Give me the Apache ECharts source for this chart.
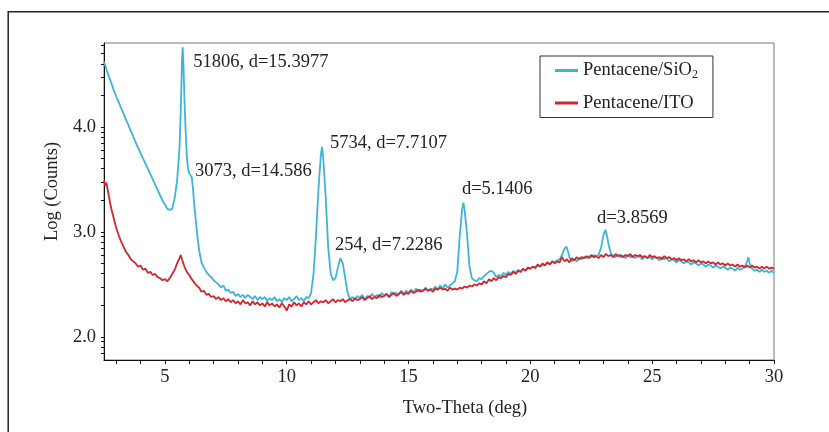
<!DOCTYPE html>
<html>
<head>
<meta charset="utf-8">
<title>XRD Pentacene</title>
<script src="https://cdn.jsdelivr.net/npm/echarts@6.0.0/dist/echarts.min.js"></script>
<style>
    html, body { margin: 0; padding: 0; background: #fff; }
    #chart { width: 829px; height: 432px; }
</style>
</head>
<body>
<div id="chart"></div>
<script>
// 2θ (deg) and log10(counts)
var sio2Theta = [
    2.5,2.6,2.7,2.8,2.9,3.0,3.1,3.2,3.3,3.4,
    3.5,3.6,3.7,3.8,3.9,4.0,4.1,4.2,4.3,4.4,
    4.5,4.6,4.7,4.8,4.9,5.0,5.1,5.2,5.3,5.4,
    5.5,5.6,5.65,5.7,5.73,5.76,5.8,5.85,5.9,5.95,
    6.0,6.05,6.1,6.15,6.2,6.3,6.4,6.5,6.6,6.7,
    6.8,6.9,7.0,7.1,7.2,7.3,7.4,7.5,7.6,7.7,
    7.8,7.9,8.0,8.1,8.2,8.3,8.4,8.5,8.6,8.7,
    8.8,8.9,9.0,9.1,9.2,9.3,9.4,9.5,9.6,9.7,
    9.8,9.9,10.0,10.1,10.2,10.3,10.4,10.5,10.6,10.7,
    10.8,10.9,11.0,11.1,11.2,11.3,11.4,11.45,11.5,11.6,
    11.7,11.8,11.9,12.0,12.1,12.2,12.25,12.3,12.4,12.5,
    12.6,12.7,12.8,12.9,13.0,13.1,13.2,13.3,13.4,13.5,
    13.6,13.7,13.8,13.9,14.0,14.1,14.2,14.3,14.4,14.5,
    14.6,14.7,14.8,14.9,15.0,15.1,15.2,15.3,15.4,15.5,
    15.6,15.7,15.8,15.9,16.0,16.1,16.2,16.3,16.4,16.5,
    16.6,16.7,16.8,16.9,17.0,17.1,17.2,17.25,17.3,17.4,
    17.5,17.6,17.7,17.8,17.9,18.0,18.1,18.2,18.3,18.4,
    18.5,18.6,18.7,18.8,18.9,19.0,19.1,19.2,19.3,19.4,
    19.5,19.6,19.7,19.8,19.9,20.0,20.1,20.2,20.3,20.4,
    20.5,20.6,20.7,20.8,20.9,21.0,21.1,21.2,21.3,21.4,
    21.48,21.55,21.6,21.7,21.8,21.9,22.0,22.1,22.2,22.3,
    22.4,22.5,22.6,22.7,22.8,22.9,23.0,23.08,23.15,23.2,
    23.3,23.4,23.5,23.6,23.7,23.8,23.9,24.0,24.1,24.2,
    24.3,24.4,24.5,24.6,24.7,24.8,24.9,25.0,25.1,25.2,
    25.3,25.4,25.5,25.6,25.7,25.8,25.9,26.0,26.1,26.2,
    26.3,26.4,26.5,26.6,26.7,26.8,26.9,27.0,27.1,27.2,
    27.3,27.4,27.5,27.6,27.7,27.8,27.9,28.0,28.1,28.2,
    28.3,28.4,28.5,28.6,28.7,28.8,28.9,28.95,29.0,29.1,
    29.2,29.3,29.4,29.5,29.6,29.7,29.8,29.9,30.0
];
var sio2Log = [
    4.62,4.55,4.48,4.42,4.35,4.29,4.24,4.18,4.13,4.07,
    4.02,3.96,3.91,3.85,3.80,3.75,3.70,3.65,3.60,3.55,
    3.50,3.45,3.40,3.35,3.30,3.26,3.22,3.21,3.22,3.32,
    3.49,3.80,4.15,4.62,4.76,4.60,4.28,3.96,3.72,3.60,
    3.56,3.55,3.52,3.42,3.27,3.03,2.83,2.71,2.66,2.62,
    2.59,2.57,2.54,2.52,2.50,2.47,2.49,2.44,2.45,2.42,
    2.43,2.39,2.41,2.38,2.40,2.37,2.40,2.38,2.36,2.39,
    2.35,2.38,2.36,2.38,2.34,2.37,2.35,2.38,2.34,2.36,
    2.33,2.37,2.35,2.38,2.34,2.36,2.39,2.35,2.37,2.34,
    2.38,2.37,2.42,2.60,2.96,3.40,3.73,3.81,3.70,3.33,
    2.86,2.61,2.54,2.56,2.66,2.75,2.76,2.70,2.56,2.42,
    2.36,2.38,2.35,2.39,2.37,2.40,2.36,2.39,2.37,2.41,
    2.38,2.40,2.37,2.42,2.39,2.41,2.38,2.43,2.40,2.42,
    2.40,2.44,2.41,2.44,2.42,2.45,2.42,2.46,2.43,2.45,
    2.44,2.47,2.44,2.46,2.45,2.48,2.45,2.49,2.46,2.50,
    2.47,2.49,2.51,2.53,2.62,2.96,3.22,3.28,3.21,2.98,
    2.67,2.56,2.54,2.53,2.56,2.55,2.58,2.60,2.62,2.63,
    2.61,2.57,2.59,2.58,2.61,2.59,2.62,2.60,2.63,2.61,
    2.64,2.62,2.65,2.63,2.66,2.65,2.67,2.65,2.68,2.67,
    2.69,2.68,2.71,2.69,2.72,2.71,2.73,2.74,2.78,2.84,
    2.86,2.81,2.76,2.72,2.74,2.72,2.75,2.74,2.76,2.75,
    2.77,2.76,2.78,2.77,2.78,2.85,2.97,3.02,2.96,2.89,
    2.80,2.77,2.76,2.78,2.76,2.77,2.75,2.78,2.76,2.77,
    2.75,2.77,2.76,2.74,2.77,2.75,2.76,2.74,2.76,2.75,
    2.73,2.76,2.74,2.75,2.72,2.74,2.73,2.71,2.73,2.72,
    2.70,2.72,2.71,2.69,2.71,2.70,2.68,2.70,2.69,2.67,
    2.69,2.68,2.66,2.68,2.67,2.65,2.67,2.66,2.64,2.66,
    2.65,2.63,2.66,2.64,2.65,2.67,2.72,2.76,2.70,2.65,
    2.63,2.64,2.62,2.64,2.62,2.63,2.61,2.63,2.61
];
var itoTheta = [
    2.5,2.55,2.6,2.7,2.8,2.9,3.0,3.1,3.2,3.3,
    3.4,3.5,3.6,3.7,3.8,3.9,4.0,4.1,4.2,4.3,
    4.4,4.5,4.6,4.7,4.8,4.9,5.0,5.1,5.2,5.3,
    5.4,5.5,5.6,5.65,5.7,5.8,5.9,6.0,6.1,6.2,
    6.3,6.4,6.5,6.6,6.7,6.8,6.9,7.0,7.1,7.2,
    7.3,7.4,7.5,7.6,7.7,7.8,7.9,8.0,8.1,8.2,
    8.3,8.4,8.5,8.6,8.7,8.8,8.9,9.0,9.1,9.2,
    9.3,9.4,9.5,9.6,9.7,9.8,9.9,10.0,10.1,10.2,
    10.3,10.4,10.5,10.6,10.7,10.8,10.9,11.0,11.1,11.2,
    11.3,11.4,11.5,11.6,11.7,11.8,11.9,12.0,12.1,12.2,
    12.3,12.4,12.5,12.6,12.7,12.8,12.9,13.0,13.1,13.2,
    13.3,13.4,13.5,13.6,13.7,13.8,13.9,14.0,14.1,14.2,
    14.3,14.4,14.5,14.6,14.7,14.8,14.9,15.0,15.1,15.2,
    15.3,15.4,15.5,15.6,15.7,15.8,15.9,16.0,16.1,16.2,
    16.3,16.4,16.5,16.6,16.7,16.8,16.9,17.0,17.1,17.2,
    17.3,17.4,17.5,17.6,17.7,17.8,17.9,18.0,18.1,18.2,
    18.3,18.4,18.5,18.6,18.7,18.8,18.9,19.0,19.1,19.2,
    19.3,19.4,19.5,19.6,19.7,19.8,19.9,20.0,20.1,20.2,
    20.3,20.4,20.5,20.6,20.7,20.8,20.9,21.0,21.1,21.2,
    21.3,21.4,21.5,21.6,21.7,21.8,21.9,22.0,22.1,22.2,
    22.3,22.4,22.5,22.6,22.7,22.8,22.9,23.0,23.1,23.2,
    23.3,23.4,23.5,23.6,23.7,23.8,23.9,24.0,24.1,24.2,
    24.3,24.4,24.5,24.6,24.7,24.8,24.9,25.0,25.1,25.2,
    25.3,25.4,25.5,25.6,25.7,25.8,25.9,26.0,26.1,26.2,
    26.3,26.4,26.5,26.6,26.7,26.8,26.9,27.0,27.1,27.2,
    27.3,27.4,27.5,27.6,27.7,27.8,27.9,28.0,28.1,28.2,
    28.3,28.4,28.5,28.6,28.7,28.8,28.9,29.0,29.1,29.2,
    29.3,29.4,29.5,29.6,29.7,29.8,29.9,30.0
];
var itoLog = [
    3.49,3.44,3.47,3.34,3.22,3.13,3.04,2.97,2.91,2.86,
    2.81,2.78,2.74,2.72,2.70,2.67,2.68,2.64,2.65,2.61,
    2.62,2.59,2.60,2.57,2.56,2.54,2.55,2.53,2.56,2.60,
    2.64,2.70,2.75,2.78,2.74,2.67,2.62,2.59,2.55,2.52,
    2.49,2.47,2.43,2.44,2.40,2.41,2.38,2.39,2.36,2.38,
    2.35,2.37,2.34,2.36,2.33,2.35,2.32,2.34,2.31,2.35,
    2.32,2.33,2.30,2.34,2.31,2.33,2.30,2.32,2.29,2.33,
    2.30,2.32,2.29,2.31,2.28,2.32,2.29,2.25,2.31,2.29,
    2.33,2.30,2.32,2.29,2.33,2.31,2.34,2.31,2.33,2.35,
    2.32,2.34,2.33,2.35,2.32,2.34,2.36,2.33,2.35,2.34,
    2.36,2.33,2.35,2.36,2.34,2.37,2.35,2.36,2.38,2.35,
    2.37,2.39,2.36,2.38,2.37,2.40,2.38,2.39,2.41,2.38,
    2.40,2.42,2.39,2.41,2.43,2.40,2.42,2.41,2.44,2.42,
    2.43,2.45,2.43,2.44,2.46,2.44,2.45,2.43,2.46,2.45,
    2.47,2.45,2.46,2.44,2.47,2.45,2.46,2.45,2.47,2.46,
    2.48,2.47,2.49,2.48,2.50,2.49,2.51,2.50,2.53,2.51,
    2.55,2.53,2.56,2.54,2.57,2.56,2.58,2.57,2.60,2.59,
    2.62,2.60,2.63,2.62,2.65,2.63,2.66,2.65,2.67,2.66,
    2.69,2.67,2.70,2.68,2.71,2.69,2.72,2.70,2.72,2.71,
    2.76,2.72,2.74,2.71,2.75,2.73,2.76,2.74,2.76,2.75,
    2.77,2.75,2.78,2.76,2.77,2.75,2.78,2.76,2.79,2.77,
    2.78,2.76,2.79,2.77,2.78,2.76,2.78,2.77,2.79,2.76,
    2.78,2.77,2.78,2.76,2.77,2.75,2.78,2.76,2.77,2.75,
    2.76,2.74,2.77,2.75,2.76,2.74,2.75,2.73,2.75,2.73,
    2.74,2.72,2.74,2.72,2.73,2.71,2.73,2.71,2.72,2.70,
    2.72,2.70,2.71,2.69,2.71,2.69,2.70,2.68,2.70,2.68,
    2.69,2.67,2.69,2.67,2.68,2.66,2.68,2.66,2.68,2.66,
    2.67,2.65,2.67,2.65,2.67,2.65,2.66,2.65
];

// peak notes, left end of each text
var noteText = ['51806, d=15.3977', '3073, d=14.586', '5734, d=7.7107', '254, d=7.2286', 'd=5.1406', 'd=3.8569'];
var noteTheta = [6.16, 6.23, 11.78, 11.98, 17.19, 22.74];
var noteLog = [4.616, 3.581, 3.842, 2.873, 3.407, 3.128];

var xTickLabels = [5, 10, 15, 20, 25, 30];
var xTicks = [3,4,5,6,7,8,9,10,11,12,13,14,15,16,17,18,19,20,21,22,23,24,25,26,27,28,29,30];
var yTickLabels = [2, 3, 4];
// counts for the log ticks
var yTickCounts = [70,80,90,100,200,300,400,500,600,700,800,900,1000,2000,3000,4000,5000,6000,7000,8000,9000,10000,20000,30000,40000,50000,60000];

var serif = "'Liberation Serif', 'Times New Roman', serif";
var cyan = '#3db4d9';
var red = '#d3262c';

function pairs(xs, ys) {
    var out = [];
    for (var i = 0; i < xs.length; i++) {
        out.push([xs[i], ys[i]]);
    }
    return out;
}

var notes = [];
for (var i = 0; i < noteText.length; i++) {
    notes.push({name: noteText[i], coord: [noteTheta[i], noteLog[i]]});
}

var yTicks = yTickCounts.map(function (c) { return Math.log10(c); });

var myChart = echarts.init(document.getElementById('chart'));
var option = {
    animation: false,
    backgroundColor: '#fff',
    textStyle: {fontFamily: serif},
    grid: {
        left: 104, right: 55, top: 43, bottom: 72,
        show: true, borderColor: '#777', borderWidth: 1, backgroundColor: 'transparent'
    },
    legend: {
        data: ['Pentacene/SiO2', 'Pentacene/ITO'],
        orient: 'vertical',
        left: 540, top: 56,
        padding: [5, 15, 5, 15],
        itemGap: 13,
        itemWidth: 23, itemHeight: 3,
        icon: 'rect',
        borderColor: '#333', borderWidth: 1,
        backgroundColor: '#fff',
        formatter: function (name) {
            if (name === 'Pentacene/SiO2') {
                return '{a|Pentacene/SiO}{sub|2}';
            }
            return '{a|' + name + '}';
        },
        textStyle: {
            fontFamily: serif, fontSize: 18.5, color: '#222',
            rich: {
                a: {fontFamily: serif, fontSize: 18.5, color: '#222', lineHeight: 20},
                sub: {fontFamily: serif, fontSize: 12, color: '#222', lineHeight: 20, verticalAlign: 'bottom', padding: [6, 0, 0, 0]}
            }
        }
    },
    xAxis: {
        type: 'value',
        min: 2.5, max: 30,
        name: 'Two-Theta (deg)',
        nameLocation: 'middle',
        nameGap: 39,
        nameTextStyle: {fontFamily: serif, fontSize: 18.5, color: '#222', padding: [0, 0, 0, 52]},
        axisLine: {show: true, onZero: false, lineStyle: {color: '#111', width: 1}},
        axisTick: {show: true, inside: false, length: 4, customValues: xTicks, lineStyle: {color: '#111'}},
        axisLabel: {customValues: xTickLabels, margin: 8, fontFamily: serif, fontSize: 18.5, color: '#222'},
        splitLine: {show: false}
    },
    yAxis: {
        type: 'value',
        min: 1.78, max: 4.8,
        name: 'Log (Counts)',
        nameLocation: 'middle',
        nameGap: 34,
        nameTextStyle: {fontFamily: serif, fontSize: 18.5, color: '#222', padding: [0, 0, 0, 20]},
        axisLine: {show: true, onZero: false, lineStyle: {color: '#111', width: 1}},
        axisTick: {show: true, inside: false, length: 3, customValues: yTicks, lineStyle: {color: '#111'}},
        axisLabel: {
            customValues: yTickLabels, margin: 8, fontFamily: serif, fontSize: 18.5, color: '#222',
            formatter: function (v) { return v.toFixed(1); }
        },
        splitLine: {show: false}
    },
    graphic: [{
        type: 'polyline',
        silent: true,
        shape: {points: [[8.2, 432], [8.2, 11.8], [829, 11.8]]},
        style: {stroke: '#222', lineWidth: 1.5, fill: null}
    }],
    series: [{
        name: 'Pentacene/SiO2',
        type: 'line',
        data: pairs(sio2Theta, sio2Log),
        showSymbol: false,
        symbol: 'none',
        lineStyle: {color: cyan, width: 1.8},
        itemStyle: {color: cyan},
        markPoint: {
            silent: true,
            symbol: 'circle',
            symbolSize: 0,
            data: notes,
            label: {
                show: true, position: 'right', distance: 0, formatter: '{b}',
                fontFamily: serif, fontSize: 18.5, color: '#222'
            }
        }
    }, {
        name: 'Pentacene/ITO',
        type: 'line',
        data: pairs(itoTheta, itoLog),
        showSymbol: false,
        symbol: 'none',
        lineStyle: {color: red, width: 1.8},
        itemStyle: {color: red}
    }]
};
myChart.setOption(option);
</script>
</body>
</html>
